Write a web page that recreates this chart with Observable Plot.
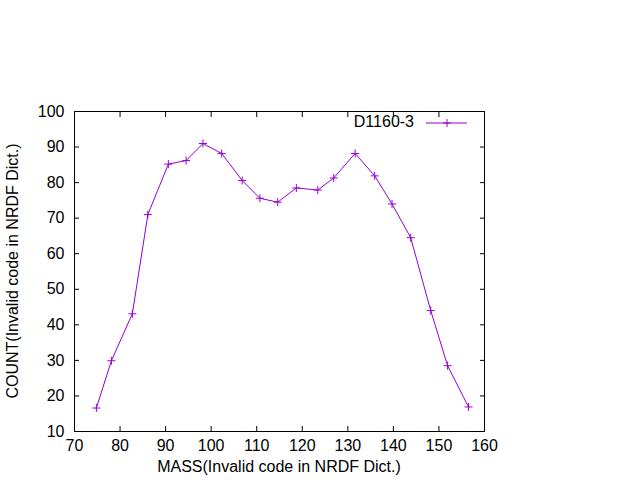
<!DOCTYPE html>
<html>
<head>
<meta charset="utf-8">
<script src="https://cdn.jsdelivr.net/npm/d3@7"></script>
<script src="https://cdn.jsdelivr.net/npm/@observablehq/plot@0.6"></script>
<style>
  html, body { margin: 0; padding: 0; background: #fff; }
  svg { display: block; }
</style>
</head>
<body>
<div id="chart"></div>
<script>
const seriesName = "D1160-3";
const mass = [74.8, 78.1, 82.7, 86.1, 90.6, 94.5, 98.2, 102.3, 106.8, 110.7, 114.6, 118.7, 123.4, 126.9, 131.6, 135.9, 139.7, 143.8, 148.2, 151.9, 156.5];
const count = [16.6, 29.9, 43.1, 71.0, 85.2, 86.2, 91.0, 88.2, 80.6, 75.6, 74.5, 78.5, 77.9, 81.3, 88.2, 81.9, 74.0, 64.5, 44.0, 28.5, 16.9];
const xTicks = [70, 80, 90, 100, 110, 120, 130, 140, 150, 160];
const yTicks = [10, 20, 30, 40, 50, 60, 70, 80, 90, 100];
const xLabel = "MASS(Invalid code in NRDF Dict.)";
const yLabel = "COUNT(Invalid code in NRDF Dict.)";
const color = "#9400d3";

const data = mass.map((m, i) => ({mass: m, count: count[i]}));

const thinPlus = {
  draw(context, size) {
    const r = Math.sqrt(size / Math.PI);
    context.moveTo(-r, 0); context.lineTo(r, 0);
    context.moveTo(0, -r); context.lineTo(0, r);
  }
};

const plot = Plot.plot({
  width: 640,
  height: 480,
  marginLeft: 74,
  marginRight: 156,
  marginTop: 111,
  marginBottom: 49,
  style: {fontFamily: "'Liberation Sans', Arial, sans-serif", fontSize: "16px", color: "#000", background: "#fff"},
  x: {domain: [70, 160]},
  y: {domain: [10, 100]},
  marks: [
    Plot.frame({stroke: "#000", strokeWidth: 1}),
    Plot.axisX(xTicks, {anchor: "bottom", tickSize: -5, tickPadding: 13, label: null, fontSize: 16}),
    Plot.axisX(xTicks, {anchor: "top", tickSize: -5, tickFormat: () => "", label: null}),
    Plot.axisY(yTicks, {anchor: "left", tickSize: -5, tickPadding: 15, label: null, fontSize: 16}),
    Plot.axisY(yTicks, {anchor: "right", tickSize: -5, tickFormat: () => "", label: null}),
    Plot.line(data, {x: "mass", y: "count", stroke: color, strokeWidth: 1}),
    Plot.dot(data, {x: "mass", y: "count", symbol: thinPlus, r: 4, stroke: color, strokeWidth: 1, fill: "none"})
  ]
});

const svg = d3.select(plot);
const xs = plot.scale("x"), ys = plot.scale("y");
const xMid = (xs.apply(70) + xs.apply(160)) / 2;
const yMid = (ys.apply(10) + ys.apply(100)) / 2;

svg.append("text")
  .attr("x", xMid).attr("y", 472)
  .attr("text-anchor", "middle")
  .attr("font-size", 16).attr("fill", "#000")
  .text(xLabel);

svg.append("text")
  .attr("transform", `translate(18,${yMid}) rotate(-90)`)
  .attr("text-anchor", "middle")
  .attr("font-size", 16).attr("fill", "#000")
  .text(yLabel);

// legend
const lg = svg.append("g");
lg.append("text").attr("x", 414).attr("y", 127).attr("text-anchor", "end")
  .attr("font-size", 16).attr("fill", "#000").text(seriesName);
lg.append("line").attr("x1", 426).attr("x2", 467).attr("y1", 123).attr("y2", 123)
  .attr("stroke", color).attr("stroke-width", 1);
lg.append("path").attr("d", "M443,123h8M447,119v8").attr("stroke", color).attr("stroke-width", 1).attr("fill", "none");

document.getElementById("chart").appendChild(plot);
</script>
</body>
</html>
